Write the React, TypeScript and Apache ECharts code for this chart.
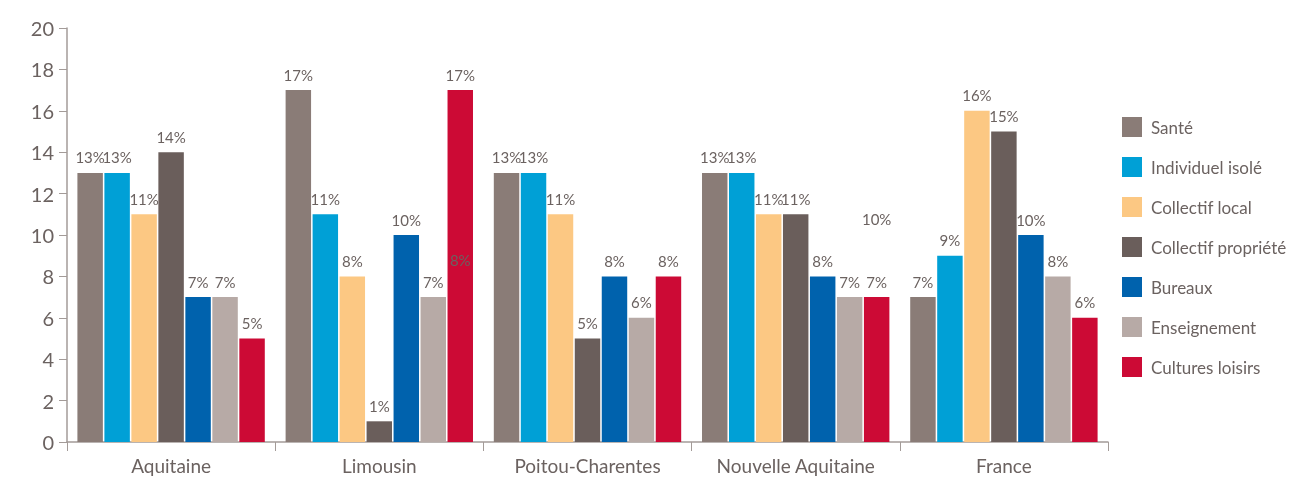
import React, { useEffect, useRef } from "react";
import * as echarts from "echarts";

const categories = ["Aquitaine", "Limousin", "Poitou-Charentes", "Nouvelle Aquitaine", "France"];
const seriesNames = [
  "Santé",
  "Individuel isolé",
  "Collectif local",
  "Collectif propriété",
  "Bureaux",
  "Enseignement",
  "Cultures loisirs",
];
const sante = [13, 17, 13, 13, 7];
const individuelIsole = [13, 11, 13, 13, 9];
const collectifLocal = [11, 8, 11, 11, 16];
const collectifPropriete = [14, 1, 5, 11, 15];
const bureaux = [7, 10, 8, 8, 10];
const enseignement = [7, 7, 6, 7, 8];
const culturesLoisirs = [5, 17, 8, 7, 6];
const seriesValues = [sante, individuelIsole, collectifLocal, collectifPropriete, bureaux, enseignement, culturesLoisirs];
const colors = ["#8a7c77", "#00a0d6", "#fcc883", "#6a5e5b", "#0062ad", "#b7aaa6", "#cc0a35"];
const yTicks = [0, 2, 4, 6, 8, 10, 12, 14, 16, 18, 20];
// stray labels printed on the "Cultures loisirs" bars in the original
const strayLabels = [
  { category: "Limousin", value: 8 },
  { category: "Nouvelle Aquitaine", value: 10 },
];

const FONT = "Lato, 'DejaVu Sans', sans-serif";
const TEXT = "#6b6260";
const AXIS = "#a39b98";

export default function App() {
  const ref = useRef<HTMLDivElement>(null);
  useEffect(() => {
    if (!ref.current) return;
    const chart = echarts.init(ref.current, null, { renderer: "svg" });
    const series = seriesNames.map((name, i) => {
      const s: any = {
        name,
        type: "bar",
        data: seriesValues[i],
        barGap: "6%",
        barCategoryGap: "10%",
        itemStyle: { color: colors[i] },
        label: {
          show: true,
          position: "top",
          distance: 8,
          formatter: "{c}%",
          color: TEXT,
          fontSize: 15,
          fontFamily: FONT,
        },
      };
      if (i === seriesNames.length - 1) {
        s.markPoint = {
          symbol: "circle",
          symbolSize: 1,
          itemStyle: { color: "rgba(0,0,0,0)" },
          label: {
            show: true,
            position: "top",
            distance: 8,
            formatter: "{c}%",
            color: TEXT,
            fontSize: 15,
            fontFamily: FONT,
          },
          data: strayLabels.map((d) => ({
            coord: [categories.indexOf(d.category), d.value],
            value: d.value,
          })),
        };
      }
      return s;
    });
    chart.setOption({
      animation: false,
      textStyle: { fontFamily: FONT },
      grid: { left: 67, right: 196, top: 28, bottom: 37, containLabel: false },
      legend: {
        orient: "vertical",
        left: 1117,
        top: 112,
        itemWidth: 20,
        itemHeight: 20,
        itemGap: 20,
        icon: "rect",
        data: seriesNames,
        textStyle: { color: TEXT, fontSize: 17, fontFamily: FONT, padding: [0, 0, 0, 4] },
      },
      xAxis: {
        type: "category",
        data: categories,
        axisLine: { lineStyle: { color: AXIS, width: 1.5 } },
        axisTick: { show: true, length: 9, lineStyle: { color: AXIS } },
        axisLabel: { color: TEXT, fontSize: 19, fontFamily: FONT, margin: 14 },
      },
      yAxis: {
        type: "value",
        min: yTicks[0],
        max: yTicks[yTicks.length - 1],
        interval: 2,
        splitLine: { show: false },
        axisLine: { show: true, lineStyle: { color: AXIS, width: 1.5 } },
        axisTick: { show: true, length: 8, lineStyle: { color: AXIS } },
        axisLabel: { color: TEXT, fontSize: 20, fontFamily: FONT, margin: 13 },
      },
      series,
    });
    return () => chart.dispose();
  }, []);
  return (
    <div
      ref={ref}
      style={{ position: "fixed", left: 0, top: 0, width: 1304, height: 479 }}
    />
  );
}
